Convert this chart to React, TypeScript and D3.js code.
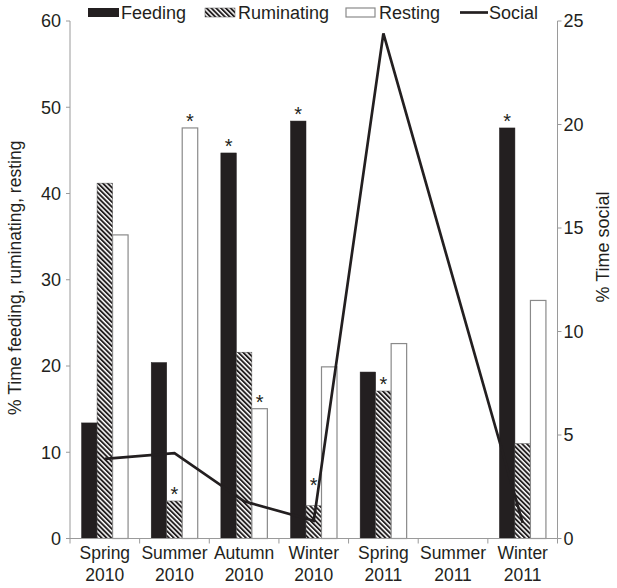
import React from "react";
import * as d3 from "d3";

const categories = [
  ["Spring", "2010"],
  ["Summer", "2010"],
  ["Autumn", "2010"],
  ["Winter", "2010"],
  ["Spring", "2011"],
  ["Summer", "2011"],
  ["Winter", "2011"],
];
const feeding = [13.4, 20.4, 44.7, 48.4, 19.3, null, 47.6];
const ruminating = [41.2, 4.35, 21.6, 3.8, 17.1, null, 11.0];
const resting = [35.2, 47.6, 15.05, 19.9, 22.6, null, 27.6];
const social = [3.85, 4.12, 1.8, 0.85, 24.4, null, 0.75];
const leftTicks = [0, 10, 20, 30, 40, 50, 60];
const rightTicks = [0, 5, 10, 15, 20, 25];
// asterisks: [series, category index]
const asterisks: [string, number][] = [
  ["ruminating", 1],
  ["resting", 1],
  ["feeding", 2],
  ["resting", 2],
  ["feeding", 3],
  ["ruminating", 3],
  ["ruminating", 4],
  ["feeding", 6],
];

const W = 617;
const H = 588;
const L = 70;
const R = 557.5;
const T = 21;
const B = 538.5;
const INK = "#231f20";
const AXIS = "#9a9a9a";
const FONT = "'Liberation Sans', Arial, sans-serif";

export default function App() {
  const keys = ["feeding", "ruminating", "resting"];
  const series: Record<string, (number | null)[]> = { feeding, ruminating, resting };
  const idx = categories.map((_, i) => String(i));
  const x0 = d3.scaleBand<string>().domain(idx).range([L, R]).padding(0);
  const groupW = 46.5;
  const x1 = d3.scaleBand<string>().domain(keys).range([0, groupW]).padding(0);
  const off = (x0.bandwidth() - groupW) / 2;
  const yL = d3.scaleLinear().domain([0, 60]).range([B, T]);
  const yR = d3.scaleLinear().domain([0, 25]).range([B, T]);
  const cx = (i: number) => (x0(String(i)) as number) + x0.bandwidth() / 2;

  const socialPts = social
    .map((v, i) => [i, v] as [number, number | null])
    .filter((d) => d[1] != null) as [number, number][];
  const line = d3
    .line<[number, number]>()
    .x((d) => cx(d[0]))
    .y((d) => yR(d[1]));

  const fills: Record<string, string> = {
    feeding: INK,
    ruminating: "url(#hatch)",
    resting: "#ffffff",
  };
  const strokes: Record<string, string> = {
    feeding: INK,
    ruminating: "#555",
    resting: "#8a8a8a",
  };

  const boundaries = d3.range(categories.length + 1).map((i) =>
    i < categories.length ? (x0(String(i)) as number) : R
  );

  return (
    <svg
      width={W}
      height={H}
      style={{ position: "absolute", left: 0, top: 0, background: "#fff" }}
      fontFamily={FONT}
    >
      <defs>
        <pattern
          id="hatch"
          patternUnits="userSpaceOnUse"
          width={3.4}
          height={3.4}
          patternTransform="rotate(-45)"
        >
          <rect width={3.4} height={3.4} fill="#fff" />
          <rect width={1.9} height={3.4} fill={INK} />
        </pattern>
      </defs>

      {/* bars */}
      {keys.map((k) =>
        series[k].map((v, i) =>
          v == null ? null : (
            <rect
              key={k + i}
              x={(x0(String(i)) as number) + off + (x1(k) as number)}
              y={yL(v)}
              width={x1.bandwidth()}
              height={B - yL(v)}
              fill={fills[k]}
              stroke={strokes[k]}
              strokeWidth={k === "resting" ? 1.2 : 0.5}
            />
          )
        )
      )}

      {/* social line */}
      <path d={line(socialPts) || ""} fill="none" stroke={INK} strokeWidth={2.7} strokeLinejoin="miter" />

      {/* asterisks */}
      {asterisks.map(([k, i], j) => {
        const v = series[k][i] as number;
        const xc = (x0(String(i)) as number) + off + (x1(k) as number) + x1.bandwidth() / 2;
        const lift = k === "ruminating" && i === 3 ? 24 : 10;
        return (
          <text
            key={"a" + j}
            x={xc}
            y={yL(v) - lift + 10}
            textAnchor="middle"
            fontSize={20}
            fill={INK}
          >
            *
          </text>
        );
      })}

      {/* left axis */}
      <line x1={L} x2={L} y1={T} y2={B} stroke={AXIS} strokeWidth={1} />
      {leftTicks.map((t) => (
        <g key={"l" + t}>
          <line x1={L - 4} x2={L} y1={yL(t)} y2={yL(t)} stroke={AXIS} />
          <text x={L - 9} y={yL(t)} dy="0.36em" textAnchor="end" fontSize={18} fill={INK}>
            {t}
          </text>
        </g>
      ))}
      {/* right axis */}
      <line x1={R} x2={R} y1={T} y2={B} stroke={AXIS} strokeWidth={1} />
      {rightTicks.map((t) => (
        <g key={"r" + t}>
          <line x1={R} x2={R + 4} y1={yR(t)} y2={yR(t)} stroke={AXIS} />
          <text x={R + 6} y={yR(t)} dy="0.36em" textAnchor="start" fontSize={18} fill={INK}>
            {t}
          </text>
        </g>
      ))}
      {/* bottom axis */}
      <line x1={L} x2={R} y1={B} y2={B} stroke={AXIS} strokeWidth={1} />
      {boundaries.map((bx, i) => (
        <line key={"b" + i} x1={bx} x2={bx} y1={B} y2={B + 5} stroke={AXIS} />
      ))}
      {categories.map((c, i) => (
        <text key={"c" + i} x={cx(i)} textAnchor="middle" fontSize={17.5} fill={INK}>
          <tspan x={cx(i)} y={559}>
            {c[0]}
          </tspan>
          <tspan x={cx(i)} y={581}>
            {c[1]}
          </tspan>
        </text>
      ))}

      {/* axis titles */}
      <text
        transform={`translate(21,${(T + B) / 2 - 2}) rotate(-90)`}
        textAnchor="middle"
        fontSize={17.5}
        fill={INK}
      >
        % Time feeding, ruminating, resting
      </text>
      <text
        transform={`translate(609,247) rotate(-90)`}
        textAnchor="middle"
        fontSize={18}
        fill={INK}
      >
        % Time social
      </text>

      {/* legend */}
      <g fontSize={18} fill={INK}>
        <rect x={88} y={8} width={31} height={9} fill={INK} />
        <text x={121} y={18.5}>Feeding</text>
        <rect x={205} y={8} width={30} height={9} fill="url(#hatch)" stroke="#555" strokeWidth={0.5} />
        <text x={238} y={18.5}>Ruminating</text>
        <rect x={346} y={8} width={29} height={9} fill="#fff" stroke="#8a8a8a" strokeWidth={1.2} />
        <text x={379} y={18.5}>Resting</text>
        <line x1={460} x2={488} y1={12.5} y2={12.5} stroke={INK} strokeWidth={2.7} />
        <text x={489} y={18.5}>Social</text>
      </g>
    </svg>
  );
}
